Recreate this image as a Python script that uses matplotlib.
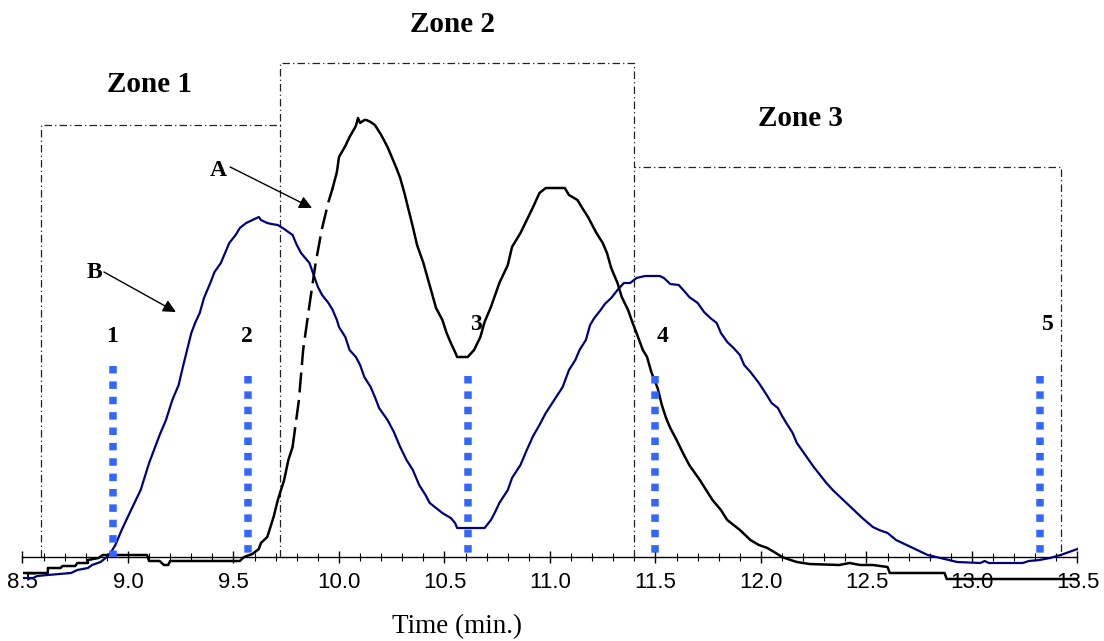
import numpy as np
import matplotlib
matplotlib.use("Agg")
from matplotlib import pyplot as plt

# curve A (black), dashed between DASH_FROM and DASH_TO
TIME_A = [8.50, 8.62, 8.62, 8.68, 8.69, 8.75, 8.76, 8.81, 8.81, 8.86, 8.88, 9.09, 9.10, 9.15,
          9.17, 9.19, 9.20, 9.53, 9.55, 9.59, 9.62, 9.63, 9.66, 9.69, 9.71, 9.74, 9.76, 9.78,
          9.81, 9.83, 9.86, 9.89, 9.92, 9.95, 9.97, 9.99, 10.00, 10.03, 10.05, 10.08, 10.09,
          10.10, 10.12, 10.13, 10.15, 10.17, 10.20, 10.23, 10.25, 10.27, 10.29, 10.31, 10.33,
          10.35, 10.37, 10.40, 10.42, 10.44, 10.46, 10.49, 10.51, 10.53, 10.55, 10.56, 10.61,
          10.64, 10.67, 10.69, 10.72, 10.74, 10.76, 10.80, 10.82, 10.86, 10.89, 10.92, 10.95,
          10.98, 11.07, 11.09, 11.13, 11.15, 11.18, 11.20, 11.22, 11.25, 11.27, 11.29, 11.32,
          11.34, 11.37, 11.39, 11.41, 11.44, 11.46, 11.48, 11.51, 11.53, 11.55, 11.57, 11.60,
          11.63, 11.66, 11.71, 11.74, 11.77, 11.81, 11.84, 11.87, 11.90, 11.95, 11.99, 12.03,
          12.07, 12.10, 12.14, 12.17, 12.23, 12.37, 12.42, 12.47, 12.53, 12.60, 12.61, 12.87,
          12.88, 13.50]
SIGNAL_A = [-16, -16, -11, -11, -9, -9, -6, -6, -3, -1, 2, 2, -4, -4,
            -8, -8, -4, -4, 0, 3, 8, 14, 20, 40, 57, 77, 97, 110,
            157, 207, 252, 295, 329, 355, 369, 385, 400, 411, 420, 431, 439,
            434, 437, 437, 435, 432, 422, 410, 400, 390, 379, 364, 347,
            330, 312, 294, 279, 264, 249, 237, 224, 214, 205, 200, 200,
            207, 220, 235, 250, 262, 274, 292, 310, 324, 337, 350, 364,
            369, 369, 362, 357, 350, 340, 332, 324, 314, 304, 289, 274,
            260, 247, 235, 224, 207, 200, 185, 169, 152, 139, 129, 117,
            104, 92, 77, 67, 57, 47, 37, 32, 27, 17, 12, 9,
            4, 0, -3, -5, -7, -8, -6, -8, -8, -10, -16, -16,
            -22, -22]
DASH_FROM = 9.78
DASH_TO = 9.97

# curve B (navy)
TIME_B = [8.50, 8.55, 8.57, 8.62, 8.73, 8.76, 8.81, 8.83, 8.87, 8.90, 8.92, 8.94, 8.97, 9.01,
          9.06, 9.10, 9.15, 9.18, 9.21, 9.24, 9.26, 9.28, 9.30, 9.32, 9.34, 9.36, 9.39, 9.41,
          9.44, 9.46, 9.48, 9.51, 9.53, 9.56, 9.59, 9.62, 9.63, 9.66, 9.68, 9.71, 9.74, 9.78,
          9.80, 9.82, 9.84, 9.86, 9.88, 9.90, 9.92, 9.95, 9.97, 9.99, 10.00, 10.03, 10.05,
          10.08, 10.10, 10.12, 10.15, 10.17, 10.19, 10.23, 10.26, 10.29, 10.32, 10.35, 10.38,
          10.41, 10.43, 10.46, 10.49, 10.53, 10.55, 10.56, 10.69, 10.72, 10.74, 10.76, 10.80,
          10.82, 10.86, 10.89, 10.92, 10.95, 10.98, 11.02, 11.06, 11.09, 11.12, 11.14, 11.17,
          11.19, 11.21, 11.24, 11.26, 11.29, 11.32, 11.35, 11.38, 11.41, 11.45, 11.52, 11.54,
          11.57, 11.61, 11.64, 11.66, 11.70, 11.73, 11.76, 11.79, 11.81, 11.84, 11.87, 11.90,
          11.92, 11.95, 11.99, 12.03, 12.05, 12.08, 12.10, 12.12, 12.15, 12.17, 12.21, 12.25,
          12.28, 12.31, 12.34, 12.39, 12.44, 12.48, 12.53, 12.56, 12.60, 12.64, 12.69, 12.74,
          12.79, 12.85, 12.93, 13.04, 13.06, 13.08, 13.24, 13.27, 13.32, 13.37, 13.42, 13.46,
          13.50]
SIGNAL_B = [-21, -21, -19, -18, -16, -13, -11, -8, -5, 0, 5, 12, 27, 45,
            67, 94, 122, 137, 157, 172, 190, 207, 224, 235, 244, 259, 274, 285,
            294, 304, 314, 322, 329, 334, 337, 340, 337, 334, 333, 332, 328, 322,
            312, 304, 299, 294, 282, 270, 262, 254, 247, 237, 230, 220, 207,
            200, 192, 180, 170, 160, 149, 137, 125, 110, 97, 87, 72,
            62, 54, 49, 44, 39, 34, 29, 29, 37, 45, 54, 67,
            79, 92, 107, 121, 132, 144, 157, 170, 187, 197, 207, 217,
            232, 239, 247, 253, 259, 267, 274, 274, 279, 281, 281, 279,
            273, 272, 265, 260, 254, 245, 239, 234, 224, 215, 209, 202,
            192, 185, 174, 161, 154, 149, 141, 134, 124, 114, 102, 90,
            82, 74, 67, 57, 47, 39, 30, 27, 24, 17, 12, 7,
            2, -1, -5, -6, -4, -6, -6, -4, -3, -1, 2, 5,
            8]

ZONE_NAMES = ["Zone 1", "Zone 2", "Zone 3"]
ZONE_LEFT = [8.59, 9.72, 11.40]
ZONE_RIGHT = [9.72, 11.40, 13.42]
ZONE_TOP = [432, 494, 390]

SAMPLE_NAMES = ["1", "2", "3", "4", "5"]
SAMPLE_TIMES = [8.93, 9.57, 10.61, 11.50, 13.32]
SAMPLE_TOPS = [191, 181, 181, 181, 181]

SERIF = ["Liberation Serif", "DejaVu Serif"]
NAVY = "#000080"
DOT_BLUE = "#3366ff"


def draw_curves(ax):
    t = np.array(TIME_A)
    s = np.array(SIGNAL_A)
    before = t <= DASH_FROM
    middle = (t >= DASH_FROM) & (t <= DASH_TO)
    after = t >= DASH_TO
    ax.plot(TIME_B, SIGNAL_B, color=NAVY, lw=1.6, zorder=3)
    ax.plot(t[before], s[before], color="black", lw=1.8, zorder=4)
    ax.plot(t[middle], s[middle], color="black", lw=1.8, dashes=(8, 3), zorder=4)
    ax.plot(t[after], s[after], color="black", lw=1.8, zorder=4)


def draw_zones(ax):
    # outline of the three boxes as one path, plus the inner walls
    xs = [ZONE_LEFT[0]]
    ys = [0]
    for left, right, top in zip(ZONE_LEFT, ZONE_RIGHT, ZONE_TOP):
        xs += [left, right]
        ys += [top, top]
    xs.append(ZONE_RIGHT[-1])
    ys.append(0)
    style = dict(color="#222222", lw=0.9, dashes=(6, 2.5, 1, 2.5), zorder=2)
    ax.plot(xs, ys, **style)
    for i in range(1, len(ZONE_LEFT)):
        ax.plot([ZONE_LEFT[i], ZONE_LEFT[i]], [0, min(ZONE_TOP[i - 1], ZONE_TOP[i])], **style)

    label_pos = [(9.10, 472), (10.54, 533), (12.185, 438)]
    for name, (x, y) in zip(ZONE_NAMES, label_pos):
        ax.text(x, y, name, ha="center", va="center", fontsize=21,
                fontweight="bold", family=SERIF)


def draw_samples(ax):
    label_pos = [(8.925, 220), (9.564, 220), (10.65, 232), (11.535, 221), (13.36, 232)]
    for name, t, top, (x, y) in zip(SAMPLE_NAMES, SAMPLE_TIMES, SAMPLE_TOPS, label_pos):
        ax.plot([t, t], [top, 0], color=DOT_BLUE, lw=5.4, dashes=(1, 1.05),
                dash_capstyle="butt", zorder=5)
        ax.text(x, y, name, ha="center", va="center", fontsize=17,
                fontweight="bold", family=SERIF, zorder=6)


def draw_arrows(ax):
    arrow = dict(arrowstyle="-|>", color="black", lw=1.0, mutation_scale=19,
                 shrinkA=0, shrinkB=0)
    ax.annotate("", xy=(9.872, 349), xytext=(9.484, 390), arrowprops=arrow)
    ax.annotate("", xy=(9.227, 245), xytext=(8.886, 285), arrowprops=arrow)
    ax.text(9.427, 387, "A", ha="center", va="center", fontsize=17,
            fontweight="bold", family=SERIF)
    ax.text(8.84, 284, "B", ha="center", va="center", fontsize=17,
            fontweight="bold", family=SERIF)


def main():
    fig = plt.figure(figsize=(11.04, 6.41), dpi=100)
    ax = fig.add_axes([22.5 / 1104, 0, 1055 / 1104, 1])
    ax.set_xlim(8.5, 13.5)
    ax.set_ylim(-84, 557)

    for side in ["left", "right", "top"]:
        ax.spines[side].set_visible(False)
    ax.spines["bottom"].set_position(("data", 0))
    ax.spines["bottom"].set_linewidth(1.0)
    ax.set_yticks([])

    ax.set_xticks(np.arange(8.5, 13.51, 0.5))
    ax.set_xticks(np.arange(8.5, 13.51, 0.1), minor=True)
    ax.set_xticklabels([f"{v:.1f}" for v in np.arange(8.5, 13.51, 0.5)],
                       family=["Liberation Sans", "DejaVu Sans"], fontsize=16)
    ax.tick_params(axis="x", which="major", direction="inout", length=8, width=1, pad=7)
    ax.tick_params(axis="x", which="minor", direction="inout", length=6, width=0.8)

    draw_zones(ax)
    draw_curves(ax)
    draw_samples(ax)
    draw_arrows(ax)

    fig.text(457 / 1104, 1 - 627 / 641, "Time (min.)", ha="center", va="center",
             fontsize=19.5, family=SERIF)

    fig.savefig("out.png", dpi=100)


if __name__ == "__main__":
    main()
